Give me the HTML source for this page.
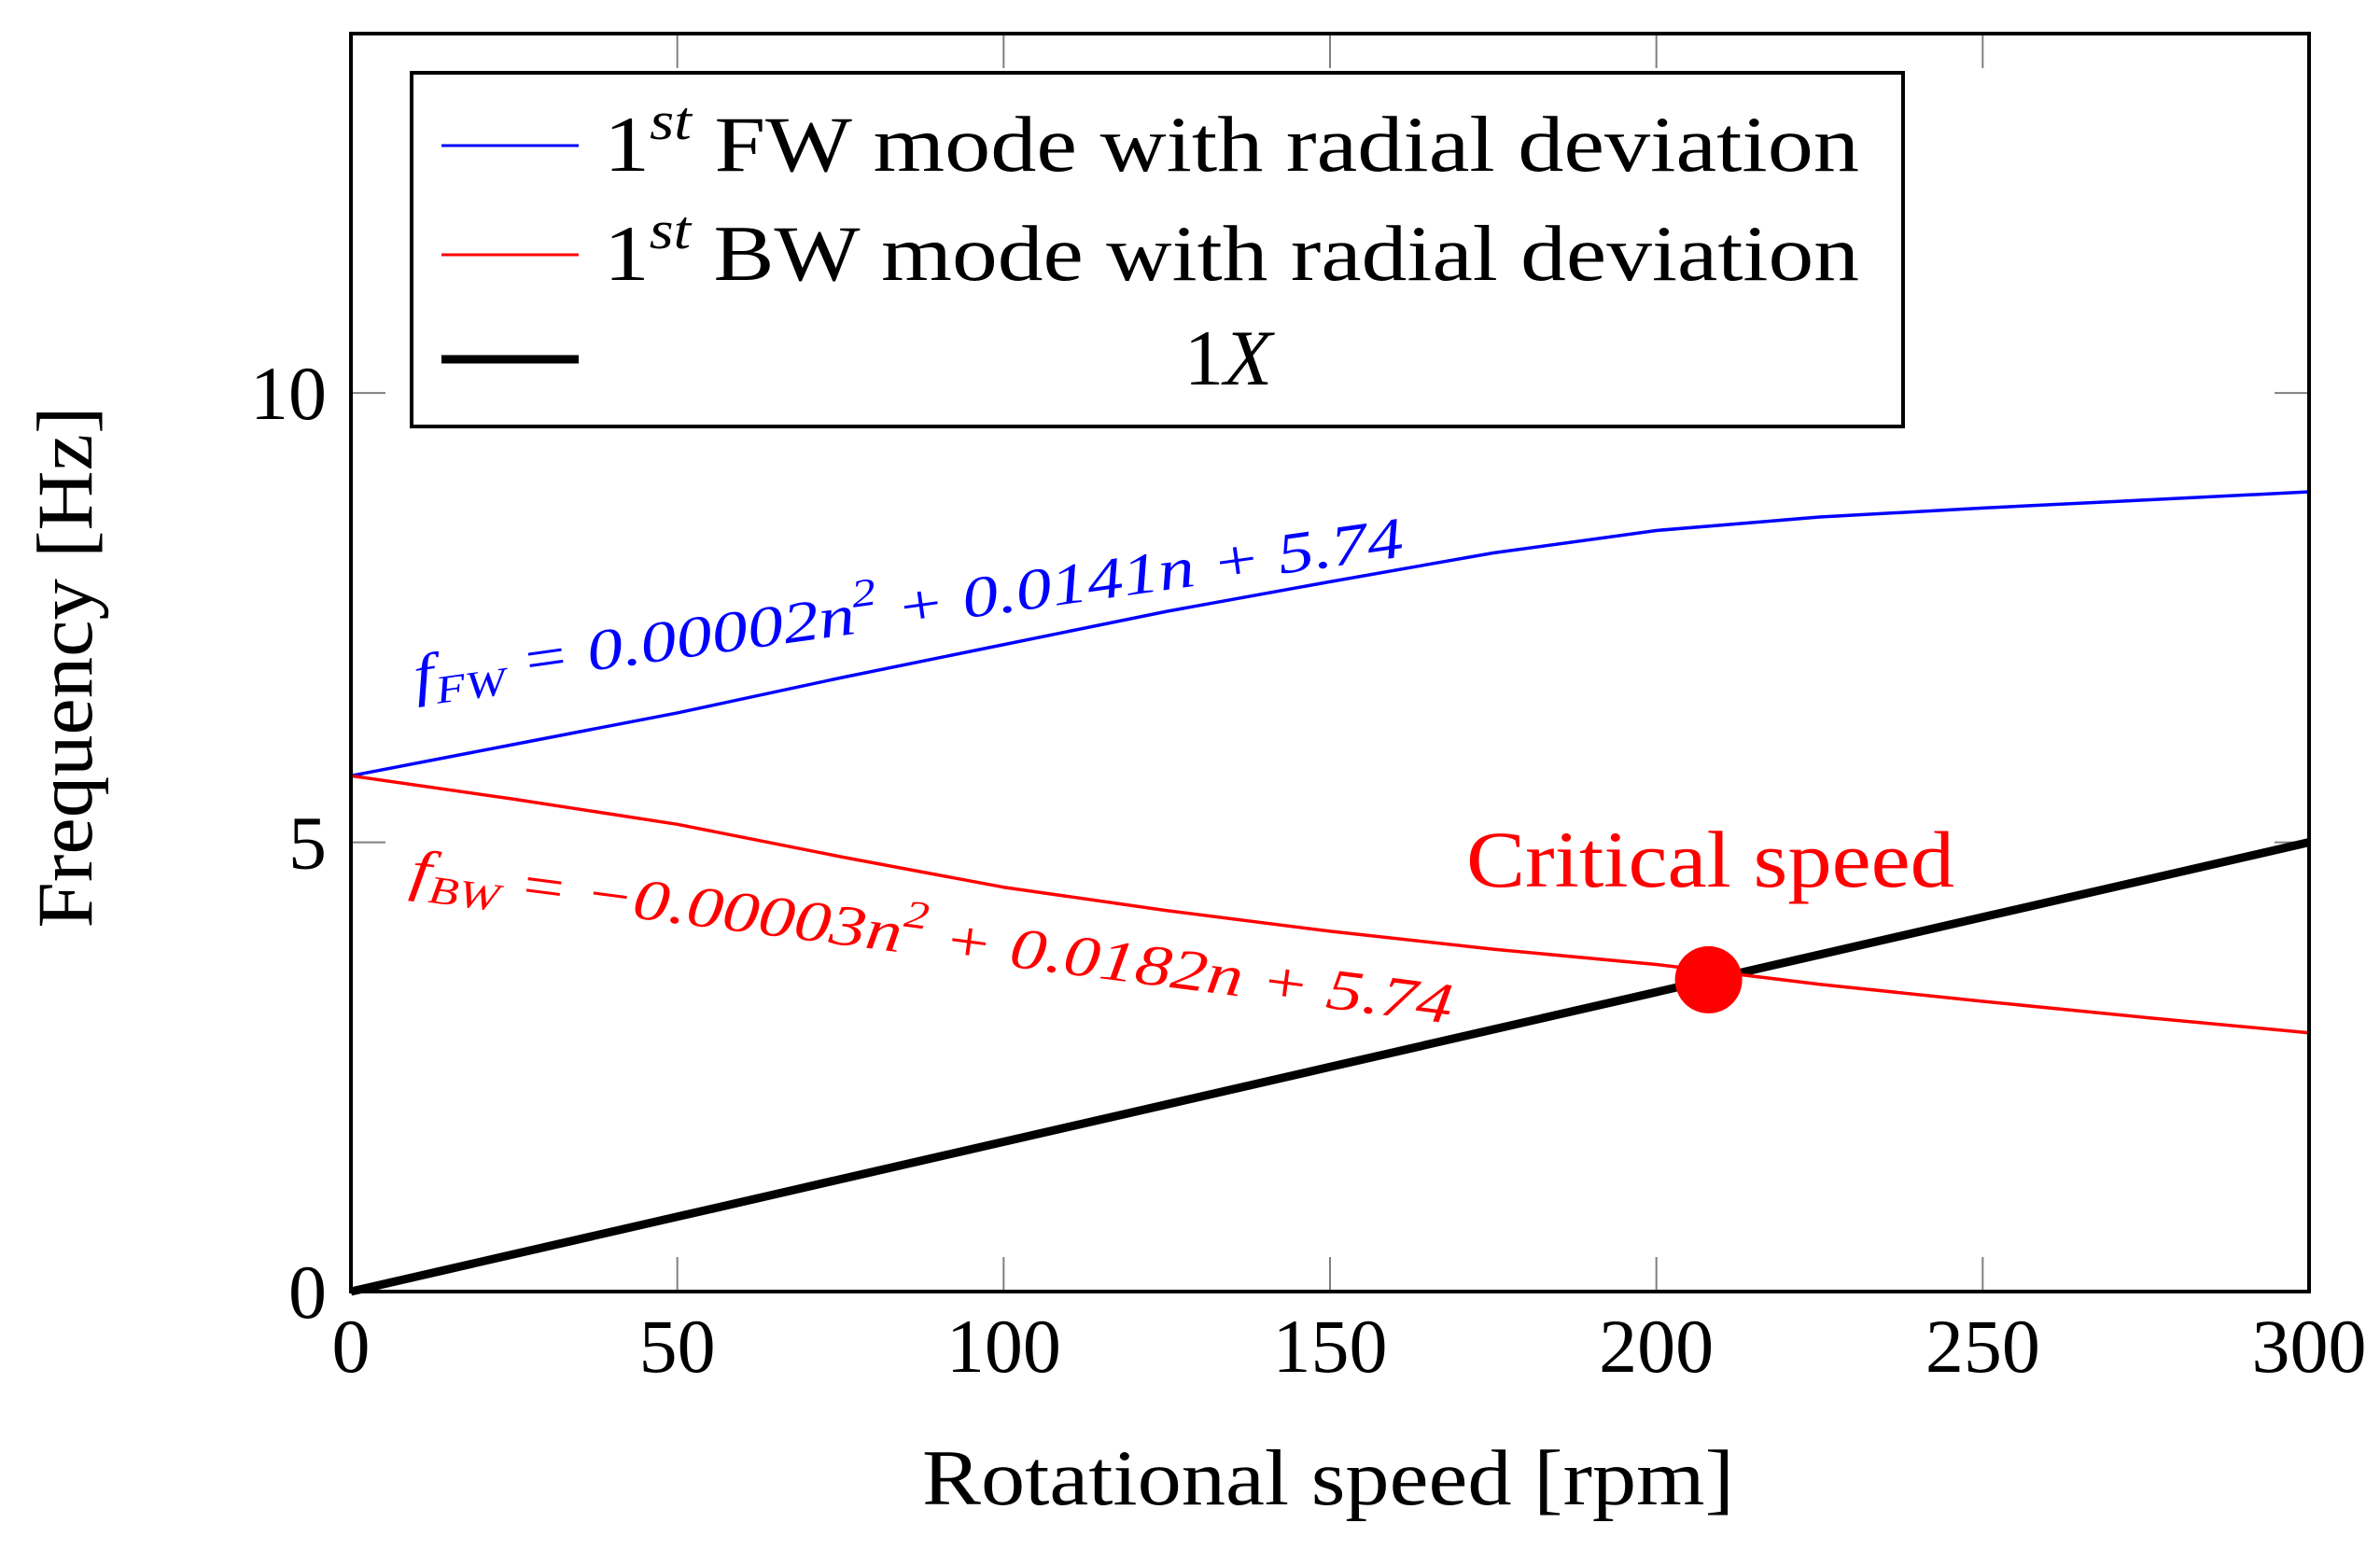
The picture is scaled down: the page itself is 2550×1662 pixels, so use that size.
<!DOCTYPE html>
<html><head><meta charset="utf-8"><style>
html,body{margin:0;padding:0;background:#fff;}
svg{display:block;font-family:"Liberation Serif",serif;}
</style></head><body>
<svg id="chart" width="2550" height="1662" viewBox="0 0 2550 1662" xmlns="http://www.w3.org/2000/svg">
<g id="grid"></g>
<g id="series"></g>
<rect x="376" y="36" width="2098" height="1348" fill="none" stroke="#000" stroke-width="4"/>
<g id="ticklabels" font-size="82"></g>
<text x="1423" y="1612" font-size="85" text-anchor="middle" textLength="870" lengthAdjust="spacingAndGlyphs">Rotational speed [rpm]</text>
<text transform="translate(98,715) rotate(-90)" font-size="85" text-anchor="middle" textLength="559" lengthAdjust="spacingAndGlyphs">Frequency [Hz]</text>
<text transform="translate(446,745) rotate(-8)" font-size="62" fill="#0000ff" font-style="italic" textLength="1070" lengthAdjust="spacingAndGlyphs">f<tspan font-size="42" dy="12">FW</tspan><tspan dy="-12"> = 0.00002n</tspan><tspan font-size="42" dy="-28">2</tspan><tspan dy="28"> + 0.0141n + 5.74</tspan></text>
<text transform="translate(438,952) rotate(7.4)" font-size="62" fill="#ff0000" font-style="italic" textLength="1125" lengthAdjust="spacingAndGlyphs">f<tspan font-size="42" dy="12">BW</tspan><tspan dy="-12"> = −0.00003n</tspan><tspan font-size="42" dy="-28">2</tspan><tspan dy="28"> + 0.0182n + 5.74</tspan></text>
<text x="1571" y="950" font-size="86" fill="#ff0000" textLength="523" lengthAdjust="spacingAndGlyphs">Critical speed</text>
<g>
<rect x="441" y="78" width="1598" height="379" fill="#fff" stroke="#000" stroke-width="4"/>
<line x1="473" y1="156" x2="620" y2="156" stroke="#0000ff" stroke-width="3"/>
<text x="647" y="183" font-size="85" textLength="1345" lengthAdjust="spacingAndGlyphs">1<tspan font-size="58" dy="-34" font-style="italic">st</tspan><tspan dy="34"> FW mode with radial deviation</tspan></text>
<line x1="473" y1="273" x2="620" y2="273" stroke="#ff0000" stroke-width="3"/>
<text x="647" y="300" font-size="85" textLength="1345" lengthAdjust="spacingAndGlyphs">1<tspan font-size="58" dy="-34" font-style="italic">st</tspan><tspan dy="34"> BW mode with radial deviation</tspan></text>
<line x1="473" y1="385" x2="620" y2="385" stroke="#000" stroke-width="9"/>
<text x="1316" y="412" font-size="85" text-anchor="middle">1<tspan font-style="italic">X</tspan></text>
</g>
</svg>
<script>
const speeds = [0, 25, 50, 75, 100, 125, 150, 175, 200, 225, 250, 275, 300];
const fwValues = [5.74, 6.09, 6.44, 6.83, 7.2, 7.57, 7.9, 8.22, 8.47, 8.62, 8.72, 8.81, 8.9];
const bwValues = [5.74, 5.48, 5.2, 4.84, 4.5, 4.24, 4.01, 3.81, 3.64, 3.42, 3.23, 3.05, 2.88];
const oneXValues = [0, 0.417, 0.833, 1.25, 1.667, 2.083, 2.5, 2.917, 3.333, 3.75, 4.167, 4.583, 5];
const criticalPoint = [208, 3.47];
const xTicks = [0, 50, 100, 150, 200, 250, 300];
const yTicks = [0, 5, 10];

const X0 = 376, X1 = 2474, Y0 = 1384, Y1 = 36, XMAX = 300, YMAX = 14;
const xs = v => X0 + v / XMAX * (X1 - X0);
const ys = v => Y0 - v / YMAX * (Y0 - Y1);
const NS = 'http://www.w3.org/2000/svg';
const grid = document.getElementById('grid');
const series = document.getElementById('series');
const tl = document.getElementById('ticklabels');

xTicks.forEach(t => {
  [[Y0, Y0 - 37], [Y1, Y1 + 37]].forEach(([a, b]) => {
    const l = document.createElementNS(NS, 'line');
    
    
    l.setAttribute('x1', xs(t)); l.setAttribute('x2', xs(t));
    l.setAttribute('y1', a); l.setAttribute('y2', b);
    l.setAttribute('stroke', '#808080'); l.setAttribute('stroke-width', '2');
    grid.appendChild(l);
  });
  const tx = document.createElementNS(NS, 'text');
  
  
  tx.setAttribute('x', xs(t)); tx.setAttribute('y', 1470);
  tx.setAttribute('text-anchor', 'middle');
  tx.textContent = t;
  tl.appendChild(tx);
});
yTicks.forEach(t => {
  [[X0, X0 + 37], [X1, X1 - 37]].forEach(([a, b]) => {
    const l = document.createElementNS(NS, 'line');
    
    
    l.setAttribute('y1', ys(t)); l.setAttribute('y2', ys(t));
    l.setAttribute('x1', a); l.setAttribute('x2', b);
    l.setAttribute('stroke', '#808080'); l.setAttribute('stroke-width', '2');
    grid.appendChild(l);
  });
  const tx = document.createElementNS(NS, 'text');
  
  
  tx.setAttribute('x', 350); tx.setAttribute('y', ys(t) + 28);
  tx.setAttribute('text-anchor', 'end');
  tx.textContent = t;
  tl.appendChild(tx);
});

function addLine(vals, color, w, name) {
  const p = document.createElementNS(NS, 'polyline');
  
  
  p.setAttribute('points', speeds.map((s, i) => xs(s) + ',' + ys(vals[i])).join(' '));
  p.setAttribute('fill', 'none'); p.setAttribute('stroke', color);
  p.setAttribute('stroke-width', w); p.setAttribute('stroke-linejoin', 'round');
  series.appendChild(p);
}
addLine(oneXValues, '#000', 9, 'series-1x');
addLine(fwValues, '#0000ff', 3.5, 'series-fw');
addLine(bwValues, '#ff0000', 3.5, 'series-bw');
const c = document.createElementNS(NS, 'circle');


c.setAttribute('cx', xs(criticalPoint[0])); c.setAttribute('cy', ys(criticalPoint[1]));
c.setAttribute('r', 36); c.setAttribute('fill', '#ff0000');
series.appendChild(c);
</script>
</body></html>
